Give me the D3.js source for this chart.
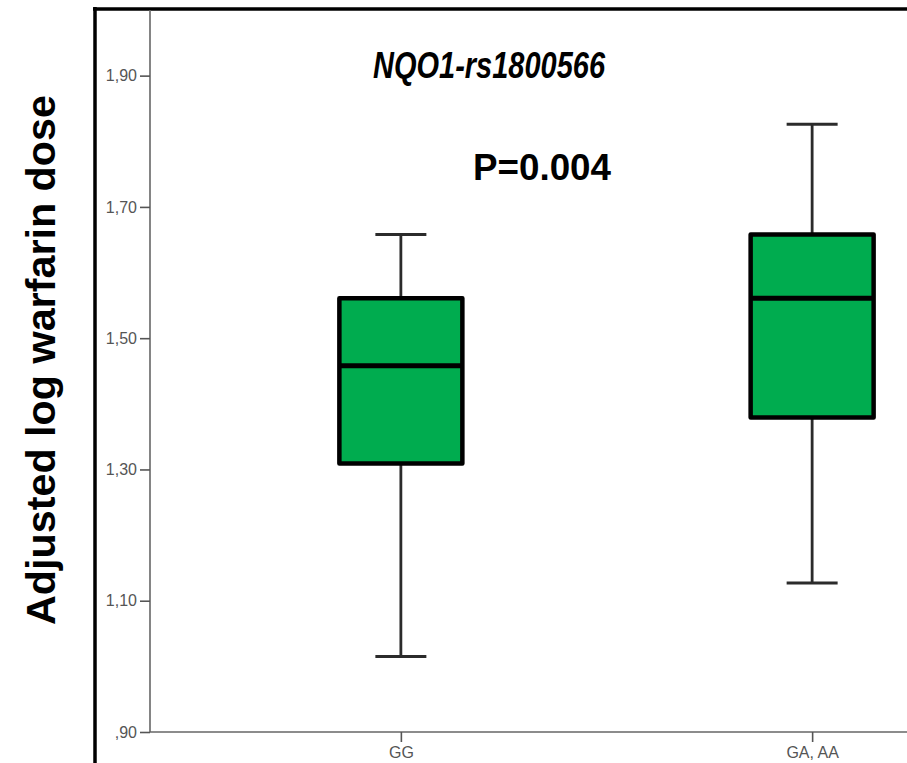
<!DOCTYPE html>
<html><head><meta charset="utf-8">
<script src="https://cdn.jsdelivr.net/npm/d3@7"></script>
<style>html,body{margin:0;padding:0;background:#fff;overflow:hidden;width:907px;height:763px;}svg{display:block;}</style>
</head><body>
<script>
const categories = ["GG", "GA, AA"];
const whiskerLow = [1.015, 1.127];
const q1 = [1.309, 1.379];
const median = [1.458, 1.561];
const q3 = [1.561, 1.658];
const whiskerHigh = [1.658, 1.826];
const yTicks = [0.9, 1.1, 1.3, 1.5, 1.7, 1.9];
const titleText = "NQO1-rs1800566";
const pText = "P=0.004";
const yTitle = "Adjusted log warfarin dose";

const W = 907, H = 763;
const svg = d3.select("body").append("svg").attr("width", W).attr("height", H)
  .style("background", "#fff").style("overflow", "hidden");

const y = d3.scaleLinear().domain([0.9, 2.0]).range([732, 10]);
const x = d3.scalePoint().domain(categories).range([150, 1063]).padding(0.61);

// frame
svg.append("line").attr("x1", 95).attr("x2", 95).attr("y1", 7).attr("y2", H)
  .attr("stroke", "#000").attr("stroke-width", 3.5);
svg.append("line").attr("x1", 93).attr("x2", W + 10).attr("y1", 9).attr("y2", 9)
  .attr("stroke", "#000").attr("stroke-width", 3.5);

// y axis
const fmt = v => { const s = v.toFixed(2).replace(".", ","); return v < 1 ? s.replace(/^0/, "") : s; };
const yAxis = svg.append("g").attr("transform", "translate(150,0)")
  .call(d3.axisLeft(y).tickValues(yTicks).tickFormat(fmt).tickSize(10).tickPadding(3));
yAxis.select(".domain").attr("d", "M0,10V732").attr("stroke", "#666").attr("stroke-width", 1.6);
yAxis.selectAll(".tick line").attr("stroke", "#555").attr("stroke-width", 1.6);
yAxis.selectAll(".tick text").attr("fill", "#555").style("font-family", "Liberation Sans, Arial, sans-serif").style("font-size", "16px");

// x axis
const xAxis = svg.append("g").attr("transform", "translate(0,732)")
  .call(d3.axisBottom(x).tickSize(10).tickPadding(5));
xAxis.select(".domain").attr("d", "M150,0H" + (W + 10)).attr("stroke", "#666").attr("stroke-width", 1.6);
xAxis.selectAll(".tick line").attr("stroke", "#555").attr("stroke-width", 1.6);
xAxis.selectAll(".tick text").attr("fill", "#555").style("font-family", "Liberation Sans, Arial, sans-serif").style("font-size", "16px");

// boxes
const boxW = 123, capW = 51;
const data = categories.map((c, i) => ({c, lo: whiskerLow[i], q1: q1[i], med: median[i], q3: q3[i], hi: whiskerHigh[i]}));
const g = svg.append("g").selectAll("g").data(data).join("g");
g.append("line").attr("x1", d => x(d.c)).attr("x2", d => x(d.c))
  .attr("y1", d => y(d.hi)).attr("y2", d => y(d.q3)).attr("stroke", "#2b2b2b").attr("stroke-width", 2.8);
g.append("line").attr("x1", d => x(d.c)).attr("x2", d => x(d.c))
  .attr("y1", d => y(d.q1)).attr("y2", d => y(d.lo)).attr("stroke", "#2b2b2b").attr("stroke-width", 2.8);
g.append("line").attr("x1", d => x(d.c) - capW / 2).attr("x2", d => x(d.c) + capW / 2)
  .attr("y1", d => y(d.hi)).attr("y2", d => y(d.hi)).attr("stroke", "#2b2b2b").attr("stroke-width", 3);
g.append("line").attr("x1", d => x(d.c) - capW / 2).attr("x2", d => x(d.c) + capW / 2)
  .attr("y1", d => y(d.lo)).attr("y2", d => y(d.lo)).attr("stroke", "#2b2b2b").attr("stroke-width", 3);
g.append("rect").attr("x", d => x(d.c) - boxW / 2).attr("width", boxW)
  .attr("y", d => y(d.q3)).attr("height", d => y(d.q1) - y(d.q3))
  .attr("fill", "#00ac4f").attr("stroke", "#000").attr("stroke-width", 4.5).attr("stroke-linejoin", "round");
g.append("line").attr("x1", d => x(d.c) - boxW / 2).attr("x2", d => x(d.c) + boxW / 2)
  .attr("y1", d => y(d.med)).attr("y2", d => y(d.med)).attr("stroke", "#000").attr("stroke-width", 5);

// texts
svg.append("text").attr("x", 489).attr("y", 78).attr("text-anchor", "middle")
  .attr("textLength", 232).attr("lengthAdjust", "spacingAndGlyphs")
  .style("font-family", "Liberation Sans Narrow, Liberation Sans, Arial, sans-serif")
  .style("font-weight", "bold").style("font-style", "italic").style("font-size", "36px")
  .text(titleText);
svg.append("text").attr("x", 542).attr("y", 180).attr("text-anchor", "middle")
  .attr("textLength", 138).attr("lengthAdjust", "spacingAndGlyphs")
  .style("font-family", "Liberation Sans Narrow, Liberation Sans, Arial, sans-serif")
  .style("font-weight", "bold").style("font-size", "36px")
  .text(pText);
svg.append("text").attr("transform", "translate(55,360) rotate(-90)").attr("text-anchor", "middle")
  .attr("textLength", 530).attr("lengthAdjust", "spacingAndGlyphs")
  .style("font-family", "Liberation Sans, Arial, sans-serif")
  .style("font-weight", "bold").style("font-size", "41px")
  .text(yTitle);
</script>
</body></html>
